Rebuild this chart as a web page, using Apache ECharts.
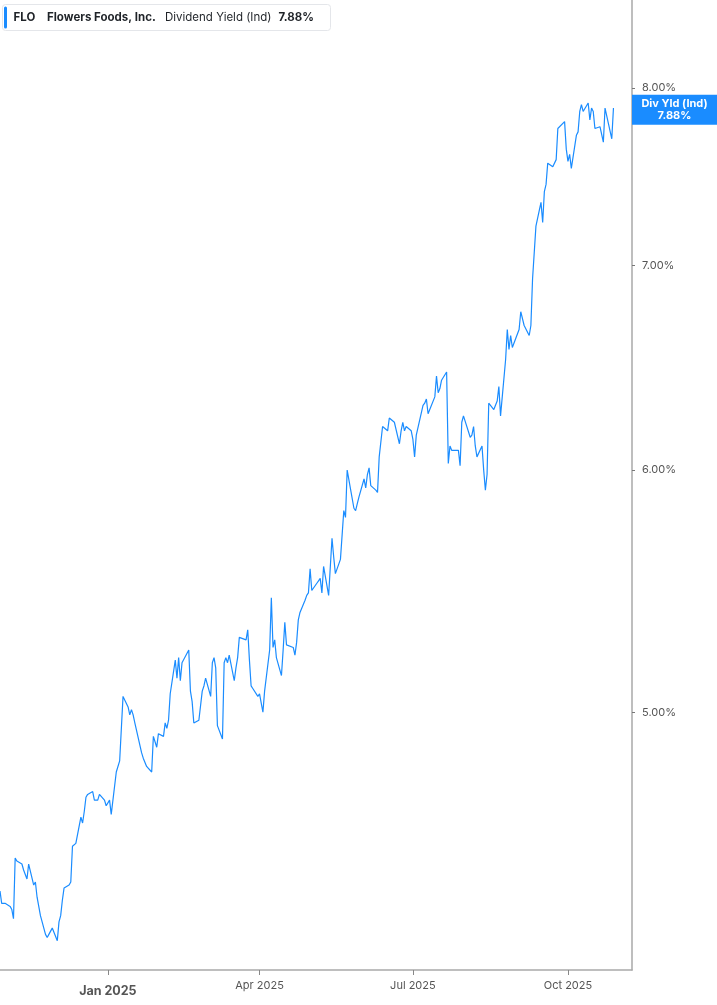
<!DOCTYPE html>
<html style="height: 100%">
<head>
    <meta charset="utf-8">
    <title>FLO Dividend Yield</title>
</head>
<body style="height: 100%; margin: 0">
<div id="container" style="width: 717px; height: 1005px"></div>

<script src="https://cdn.jsdelivr.net/npm/echarts@6/dist/echarts.min.js"></script>
<script type="text/javascript">
// trading days per month
var tradingDays = [
    ['2024-10', [29, 30, 31]],
    ['2024-11', [1, 4, 5, 6, 7, 8, 11, 12, 13, 14, 15, 18, 19, 20, 21, 22, 25, 26, 27, 29]],
    ['2024-12', [2, 3, 4, 5, 6, 9, 10, 11, 12, 13, 16, 17, 18, 19, 20, 23, 24, 26, 27, 30, 31]],
    ['2025-01', [2, 3, 6, 7, 8, 10, 13, 14, 15, 16, 17, 21, 22, 23, 24, 27, 28, 29, 30, 31]],
    ['2025-02', [3, 4, 5, 6, 7, 10, 11, 12, 13, 14, 18, 19, 20, 21, 24, 25, 26, 27, 28]],
    ['2025-03', [3, 4, 5, 6, 7, 10, 11, 12, 13, 14, 17, 18, 19, 20, 21, 24, 25, 26, 27, 28, 31]],
    ['2025-04', [1, 2, 3, 4, 7, 8, 9, 10, 11, 14, 15, 16, 17, 21, 22, 23, 24, 25, 28, 29, 30]],
    ['2025-05', [1, 2, 5, 6, 7, 8, 9, 12, 13, 14, 15, 16, 19, 20, 21, 22, 23, 27, 28, 29, 30]],
    ['2025-06', [2, 3, 4, 5, 6, 9, 10, 11, 12, 13, 16, 17, 18, 20, 23, 24, 25, 26, 27, 30]],
    ['2025-07', [1, 2, 3, 7, 8, 9, 10, 11, 14, 15, 16, 17, 18, 21, 22, 23, 24, 25, 28, 29, 30, 31]],
    ['2025-08', [1, 4, 5, 6, 7, 8, 11, 12, 13, 14, 15, 18, 19, 20, 21, 22, 25, 26, 27, 28, 29]],
    ['2025-09', [2, 3, 4, 5, 8, 9, 10, 11, 12, 15, 16, 17, 18, 19, 22, 23, 24, 25, 26, 29, 30]],
    ['2025-10', [1, 2, 3, 6, 7, 8, 9, 10, 13, 14, 15, 16, 17, 20, 21, 22, 23, 24, 27, 28]]
];

// dividend yield (%), one array per month
var yieldOct24 = [4.37, 4.33, 4.33];
var yieldNov24 = [4.33, 4.32, 4.31, 4.28, 4.48, 4.47, 4.46, 4.44, 4.44, 4.41, 4.46, 4.39, 4.40, 4.35, 4.32, 4.29, 4.23, 4.22, 4.23, 4.25];
var yieldDec24 = [4.21, 4.27, 4.29, 4.34, 4.38, 4.39, 4.40, 4.52, 4.52, 4.53, 4.62, 4.60, 4.64, 4.69, 4.70, 4.71, 4.68, 4.68, 4.70, 4.68, 4.66];
var yieldJan25 = [4.68, 4.63, 4.78, 4.78, 4.82, 5.06, 5.02, 4.99, 5.01, 4.99, 4.96, 4.85, 4.83, 4.83, 4.80, 4.78, 4.91, 4.91, 4.87, 4.92];
var yieldFeb25 = [4.91, 4.96, 4.94, 4.97, 5.07, 5.20, 5.13, 5.21, 5.12, 5.19, 5.24, 5.08, 5.04, 4.96, 4.97, 4.97, 5.08, 5.10, 5.13];
var yieldMar25 = [5.06, 5.19, 5.21, 5.17, 4.95, 4.90, 5.19, 5.21, 5.19, 5.22, 5.12, 5.17, 5.21, 5.29, 5.29, 5.28, 5.32, 5.20, 5.10, 5.09, 5.06];
var yieldApr25 = [5.07, 5.07, 5.00, 5.08, 5.24, 5.45, 5.25, 5.28, 5.21, 5.14, 5.24, 5.35, 5.26, 5.25, 5.22, 5.27, 5.36, 5.39, 5.44, 5.46, 5.47];
var yieldMay25 = [5.57, 5.48, 5.51, 5.52, 5.53, 5.47, 5.58, 5.46, 5.58, 5.70, 5.62, 5.55, 5.61, 5.61, 5.82, 5.79, 6.00, 5.83, 5.82, 5.85, 5.88];
var yieldJun25 = [5.96, 5.92, 5.98, 6.01, 5.93, 5.91, 5.90, 6.06, 6.06, 6.20, 6.18, 6.24, 6.24, 6.22, 6.12, 6.18, 6.22, 6.18, 6.20, 6.18];
var yieldJul25 = [6.14, 6.06, 6.16, 6.30, 6.31, 6.33, 6.26, 6.28, 6.34, 6.44, 6.36, 6.38, 6.42, 6.46, 6.03, 6.11, 6.09, 6.09, 6.09, 6.02, 6.22, 6.25];
var yieldAug25 = [6.25, 6.15, 6.16, 6.20, 6.11, 6.06, 6.11, 6.00, 5.91, 5.98, 6.31, 6.28, 6.30, 6.32, 6.39, 6.25, 6.52, 6.67, 6.57, 6.64, 6.58];
var yieldSep25 = [6.67, 6.76, 6.77, 6.69, 6.64, 6.69, 6.93, 6.94, 7.21, 7.34, 7.23, 7.40, 7.44, 7.56, 7.54, 7.55, 7.58, 7.76, 7.76, 7.80, 7.64];
var yieldOct25 = [7.57, 7.61, 7.53, 7.72, 7.74, 7.86, 7.90, 7.86, 7.91, 7.81, 7.88, 7.86, 7.76, 7.77, 7.76, 7.68, 7.88, 7.89, 7.70, 7.88];

var yTickLabels = [5, 6, 7, 8];
var xTickDates = ['2025-01-01', '2025-04-01', '2025-07-01', '2025-10-01'];
var xMonthNames = ['Jan', 'Feb', 'Mar', 'Apr', 'May', 'Jun', 'Jul', 'Aug', 'Sep', 'Oct', 'Nov', 'Dec'];
var xMin = '2024-10-29', xMax = '2025-11-08';
var yMin = 4.118, yMax = 8.548;   // visible range of the log axis

var blue = '#1a8cff';
var font = 'Inter, "Noto Sans", sans-serif';

var yields = [].concat(yieldOct24, yieldNov24, yieldDec24, yieldJan25, yieldFeb25, yieldMar25,
    yieldApr25, yieldMay25, yieldJun25, yieldJul25, yieldAug25, yieldSep25, yieldOct25);

var dates = [];
tradingDays.forEach(function (m) {
    m[1].forEach(function (d) {
        dates.push(m[0] + '-' + (d < 10 ? '0' + d : d));
    });
});

// x: UTC timestamps on a value axis, y: ln(yield) so the axis is logarithmic
var seriesData = dates.map(function (d, i) {
    return [Date.parse(d), Math.log(yields[i])];
});
var xTicks = xTickDates.map(function (d) { return Date.parse(d); });
var yTicks = yTickLabels.map(function (v) { return Math.log(v); });
var last = yields[yields.length - 1];

var myChart = echarts.init(document.getElementById('container'));

var option = {
    backgroundColor: '#ffffff',
    animation: false,
    textStyle: { fontFamily: font },
    grid: {
        left: 0,
        right: 85,
        top: 0,
        bottom: 35,
        containLabel: false,
        outerBoundsMode: 'none'
    },
    xAxis: {
        type: 'value',
        min: Date.parse(xMin),
        max: Date.parse(xMax),
        axisLine: { show: true, lineStyle: { color: '#a9a9a9', width: 1.5 } },
        axisTick: {
            show: true,
            customValues: xTicks,
            length: 5,
            lineStyle: { color: '#888' }
        },
        axisLabel: {
            customValues: xTicks,
            color: '#555',
            fontSize: 11,
            margin: 10,
            formatter: function (val) {
                var d = new Date(val);
                var txt = xMonthNames[d.getUTCMonth()] + ' ' + d.getUTCFullYear();
                return d.getUTCMonth() === 0 ? '{b|' + txt + '}' : txt;
            },
            rich: {
                b: { fontSize: 12.5, fontWeight: 'bold', color: '#555', padding: [5, 0, 0, 0], fontFamily: font }
            }
        },
        splitLine: { show: false }
    },
    yAxis: {
        type: 'value',
        position: 'right',
        min: Math.log(yMin),
        max: Math.log(yMax),
        axisLine: { show: true, lineStyle: { color: '#a9a9a9', width: 1.5 } },
        axisTick: {
            show: true,
            customValues: yTicks,
            length: 3,
            lineStyle: { color: '#777' }
        },
        axisLabel: {
            customValues: yTicks,
            color: '#555',
            fontSize: 11,
            margin: 10,
            formatter: function (v) {
                return Math.exp(v).toFixed(2) + '%';
            }
        },
        splitLine: { show: false }
    },
    series: [{
        name: 'Div Yld (Ind)',
        type: 'line',
        data: seriesData,
        showSymbol: false,
        symbol: 'none',
        lineStyle: { color: blue, width: 1.2 },
        markLine: {
            silent: true,
            symbol: ['none', 'none'],
            lineStyle: { color: 'rgba(0,0,0,0)', width: 0 },
            data: [{ yAxis: Math.log(last) }],
            label: {
                show: true,
                opacity: 1,
                position: 'end',
                distance: 0,
                offset: [0, -4],
                formatter: '{a|Div Yld (Ind)}\n{a|' + last.toFixed(2) + '%}',
                backgroundColor: blue,
                width: 73,
                padding: [3, 6, 3, 6],
                rich: {
                    a: { color: '#fff', fontSize: 11, fontWeight: 'bold', lineHeight: 12, align: 'center', fontFamily: font }
                }
            }
        }
    }],
    graphic: [{
        type: 'group',
        left: 2,
        top: 4,
        children: [
            {
                type: 'rect',
                shape: { x: 0, y: 0, width: 328, height: 26, r: 3 },
                style: { fill: '#fff', stroke: '#e4e6ea', lineWidth: 1 }
            },
            {
                type: 'rect',
                shape: { x: 1.5, y: 2, width: 3, height: 22, r: 1.5 },
                style: { fill: blue }
            },
            {
                type: 'text', x: 11, y: 13,
                style: { text: 'FLO', fill: '#1f2328', font: 'bold 11.5px ' + font, verticalAlign: 'middle' }
            },
            {
                type: 'text', x: 44.5, y: 13,
                style: { text: 'Flowers Foods, Inc.', fill: '#1f2328', font: 'bold 11.5px ' + font, verticalAlign: 'middle' }
            },
            {
                type: 'text', x: 162.5, y: 13,
                style: { text: 'Dividend Yield (Ind)', fill: '#1f2328', font: '11.5px ' + font, verticalAlign: 'middle' }
            },
            {
                type: 'text', x: 276, y: 13,
                style: { text: last.toFixed(2) + '%', fill: '#1f2328', font: 'bold 11.5px ' + font, verticalAlign: 'middle' }
            }
        ]
    }]
};

myChart.setOption(option);
</script>
</body>
</html>
